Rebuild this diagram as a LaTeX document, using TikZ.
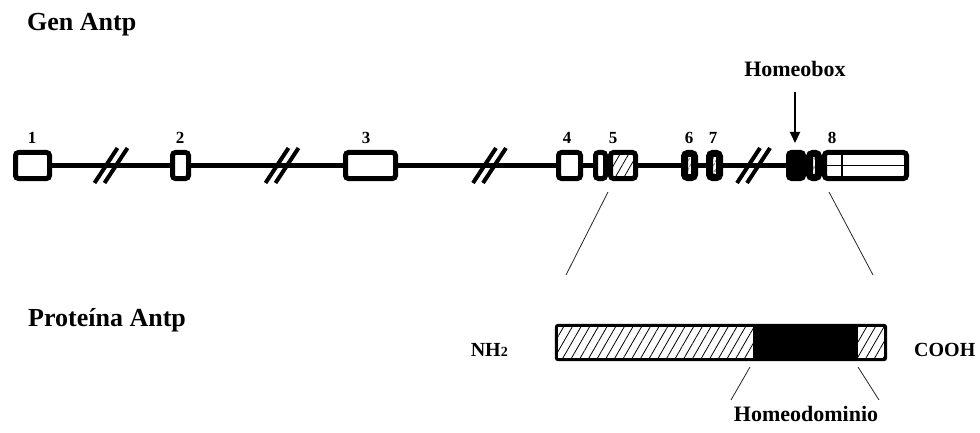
\documentclass[tikz,border=0pt]{standalone}
\usepackage{fontspec}
\setmainfont{Liberation Serif}
\usetikzlibrary{patterns.meta,arrows.meta,fit}
\tikzset{
  exon/.style={draw, line width=5pt, rounded corners=3pt, fill=white,
    minimum height=26pt, inner sep=0pt},
  hatch/.style={preaction={fill=white},
    pattern={Lines[angle=60,distance=7.5pt,line width=0.8pt]}},
  smallhatch/.style={preaction={fill=white},
    pattern={Lines[angle=60,distance=4pt,line width=0.8pt]}},
  blackexon/.style={exon, line width=7pt, minimum height=24pt, smallhatch},
  intron/.style={line width=5pt},
  cut/.style={line width=4pt},
  num/.style={font=\fontsize{17}{20}\selectfont\bfseries, anchor=base, inner sep=0pt},
  title/.style={font=\fontsize{26}{30}\selectfont\bfseries, anchor=base west, inner sep=0pt},
  lbl/.style={font=\fontsize{22}{26}\selectfont\bfseries, anchor=base, inner sep=0pt},
  endlbl/.style={font=\fontsize{20}{24}\selectfont\bfseries, inner sep=0pt},
  proj/.style={line width=0.8pt, black!85},
}
\begin{document}
\begin{tikzpicture}[x=1pt,y=-1pt]
\useasboundingbox (0,0) rectangle (980,433);

% titles
\node[title] (gen) at (27,31) {Gen Antp};
\node[title] (prot) at (28,326) {Proteína Antp};

% exons
\node[exon, minimum width=34pt] (e1) at (32.5,165.5) {};
\node[exon, minimum width=16pt] (e2) at (180.5,165.5) {};
\node[exon, minimum width=50pt] (e3) at (370.5,165.5) {};
\node[exon, minimum width=22pt] (e4) at (569.5,165.5) {};
\node[exon, minimum width=10pt] (e5a) at (600.5,165.5) {};
\node[exon, minimum width=25pt, hatch] (e5b) at (623,165.5) {};
\node[blackexon, minimum width=10pt] (e6) at (689.5,165.5) {};
\node[blackexon, minimum width=10pt] (e7) at (714.5,165.5) {};
\node[exon, minimum width=15pt, fill=black] (hb1) at (796,165.5) {};
\node[blackexon, minimum width=9pt] (hb2) at (814,165.5) {};
\node[exon, minimum width=82pt] (e8) at (865.5,165.5) {};
\draw[line width=1.2pt] (e8.west) -- (e8.east);
\draw[line width=1.2pt] (842,152) -- (842,179);

% introns
\draw[intron] (e1.east) -- (e2.west);
\draw[intron] (e2.east) -- (e3.west);
\draw[intron] (e3.east) -- (e4.west);
\draw[intron] (e4.east) -- (e5a.west);
\draw[intron] (e5b.east) -- (e6.west);
\draw[intron] (e6.east) -- (e7.west);
\draw[intron] (e7.east) -- (hb1.west);

% breaks
\foreach \bx in {110.5, 281.5, 489, 753} {
  \draw[cut] (\bx-16,183) -- (\bx+7,148);
  \draw[cut] (\bx-6,183) -- (\bx+17,148);
}

% exon numbers
\node[num] (n1) at (32,143) {1};
\node[num] (n2) at (180,143) {2};
\node[num] (n3) at (366,143) {3};
\node[num] (n4) at (567,143) {4};
\node[num] (n5) at (613,143) {5};
\node[num] (n6) at (689,143) {6};
\node[num] (n7) at (713,143) {7};
\node[num] (n8) at (832,143) {8};

% homeobox
\node[lbl] (hbl) at (795,77) {Homeobox};
\coordinate (hbt) at (795,92);
\coordinate (hbh) at (795,143);
\draw[line width=2pt, -{Triangle[length=11pt,width=10pt]}] (hbt) -- (hbh);

% protein
\node[hatch, minimum width=196.5pt, minimum height=34pt, inner sep=0pt] (pL) at (654.75,342.5) {};
\node[fill=black, minimum width=105pt, minimum height=34pt, inner sep=0pt] (pM) at (805.5,342.5) {};
\node[hatch, minimum width=27.5pt, minimum height=34pt, inner sep=0pt] (pR) at (871.75,342.5) {};
\node[draw, line width=3pt, rounded corners=2pt, inner sep=0pt, fit=(pL)(pM)(pR)] (bar) {};

\node[endlbl, anchor=base east] (nh2) at (508,356) {NH{\fontsize{14}{16}\selectfont 2}};
\node[endlbl, anchor=base west] (cooh) at (914,356) {COOH};

% projection lines
\coordinate (u1) at (608,192);
\coordinate (u2) at (566,275);
\coordinate (v1) at (829,192);
\coordinate (v2) at (873,275);
\draw[proj] (u1) -- (u2);
\draw[proj] (v1) -- (v2);

\coordinate (d1) at (750,367);
\coordinate (d2) at (731,400);
\coordinate (w1) at (858,367);
\coordinate (w2) at (879,400);
\draw[proj] (d1) -- (d2);
\draw[proj] (w1) -- (w2);

\node[lbl] (hd) at (806,421) {Homeodominio};
\end{tikzpicture}
\end{document}
